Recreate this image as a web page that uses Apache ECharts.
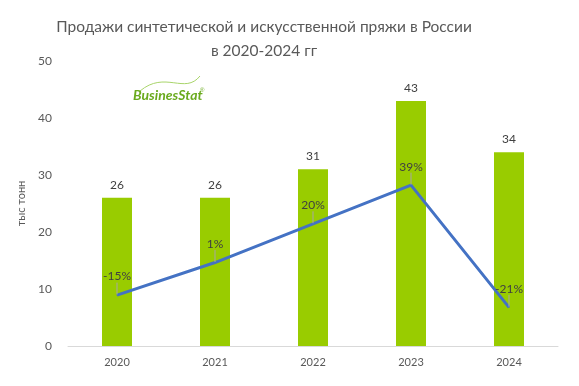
<!DOCTYPE html>
<html><head><meta charset="utf-8">
<script src="https://cdn.jsdelivr.net/npm/echarts@6/dist/echarts.min.js"></script>
<style>html,body{margin:0;padding:0;background:#fff}#c{width:579px;height:386px}</style>
</head><body><div id="c"></div>
<script>
var categories = ['2020', '2021', '2022', '2023', '2024'];
var sales = [26, 26, 31, 43, 34];
var growth = [-15, 1, 20, 39, -21];
var yTicks = { min: 0, max: 50, interval: 10 };

var chart = echarts.init(document.getElementById('c'));
var font = 'Lato, Open Sans, sans-serif';
chart.setOption({
  animation: false,
  textStyle: { fontFamily: font },
  title: {
    text: 'Продажи синтетической и искусственной пряжи в России\nв 2020-2024 гг',
    left: 259, top: 10, textAlign: 'center',
    textStyle: { fontSize: 15.5, fontWeight: 'normal', color: '#595959', lineHeight: 24, fontFamily: font }
  },
  grid: { left: 68, right: 21, top: 61, bottom: 40 },
  xAxis: {
    type: 'category', data: categories,
    axisLine: { lineStyle: { color: '#d9d9d9', width: 1 } },
    axisTick: { show: false },
    axisLabel: { color: '#595959', fontSize: 11, margin: 11 }
  },
  yAxis: [{
    type: 'value', min: yTicks.min, max: yTicks.max, interval: yTicks.interval,
    name: 'тыс тонн', nameLocation: 'middle', nameGap: 40, nameRotate: 90,
    nameTextStyle: { color: '#595959', fontSize: 11 },
    splitLine: { show: false }, axisLine: { show: false }, axisTick: { show: false },
    axisLabel: { color: '#595959', fontSize: 12, margin: 16 }
  }, {
    type: 'value', min: -40, max: 100, show: false, splitLine: { show: false }
  }],
  series: [{
    type: 'bar', data: sales, barWidth: 30,
    itemStyle: { color: '#99CC00' },
    label: { show: true, position: 'top', distance: 7, color: '#404040', fontSize: 12 }
  }, {
    type: 'line', yAxisIndex: 1, data: growth, showSymbol: true, symbol: 'circle', symbolSize: 1,
    itemStyle: { color: '#4472C4' },
    lineStyle: { color: '#4472C4', width: 3 },
    label: { show: true, position: 'top', distance: 4, color: '#404040', fontSize: 12,
      formatter: function (p) { return p.value + '%'; } },
    labelLayout: { dy: -8 },
    labelLine: { show: true, length2: 0, lineStyle: { color: '#a6a6a6', width: 1 } },
    z: 3
  }],
  graphic: [{
    type: 'bezierCurve', z: 10,
    shape: { x1: 140, y1: 91, x2: 200, y2: 76, cpx1: 165, cpy1: 70, cpx2: 185, cpy2: 95 },
    style: { stroke: '#a8d46a', lineWidth: 1, fill: null }
  }, {
    type: 'text', left: 133, top: 88, z: 10,
    style: { text: 'BusinesStat', fill: '#6aaa1e', font: 'italic bold 14px ' + font }
  }, {
    type: 'text', left: 200, top: 87, z: 10,
    style: { text: '®', fill: '#6aaa1e', font: '6px sans-serif' }
  }]
});
</script></body></html>
